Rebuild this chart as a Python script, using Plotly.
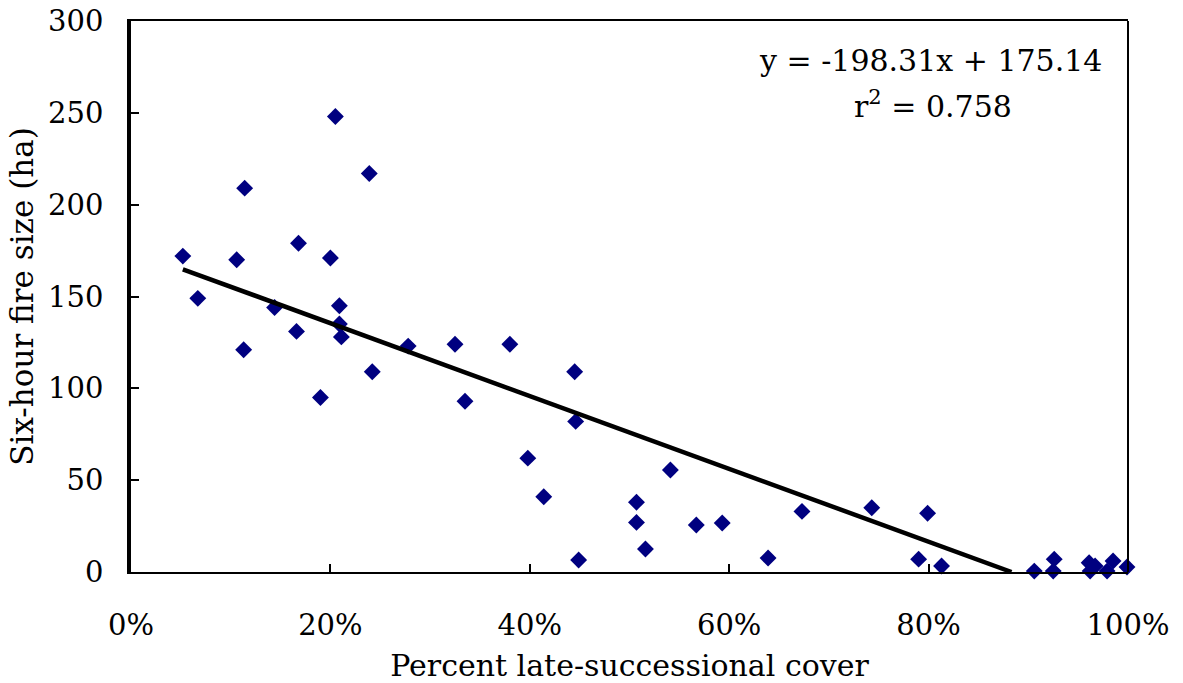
import numpy as np
import plotly.graph_objects as go

# Late-successional cover (fraction of area) and six-hour fire size (ha)
cover = [0.052, 0.067, 0.106, 0.114, 0.113, 0.144, 0.168, 0.166, 0.200, 0.205,
         0.209, 0.209, 0.211, 0.190, 0.239, 0.242, 0.278, 0.325, 0.335, 0.380,
         0.398, 0.414, 0.445, 0.446, 0.449, 0.507, 0.507, 0.516, 0.541, 0.567,
         0.593, 0.639, 0.673, 0.743, 0.790, 0.799, 0.813, 0.906, 0.926, 0.925,
         0.961, 0.962, 0.967, 0.979, 0.985, 0.999]
fire_size = [172, 149, 170, 209, 121, 144, 179, 131, 171, 248,
             145, 135, 128, 95, 217, 109, 123, 124, 93, 124,
             62, 41, 109, 82, 6.5, 38, 27, 12.5, 55.5, 25.6,
             26.7, 7.6, 33, 35, 7, 32, 3.3, 0.5, 7, 0.5,
             5, 0.5, 3.3, 0.5, 6, 2.7]

# Linear fit reported on the chart
slope = -198.31
intercept = 175.14
r_squared = 0.758

x_ticks = [0, 0.2, 0.4, 0.6, 0.8, 1.0]
y_ticks = [0, 50, 100, 150, 200, 250, 300]

SERIF = "DejaVu Serif"

fit_x = np.array([min(cover), -intercept / slope])
fit_y = slope * fit_x + intercept

fig = go.Figure()
fig.add_trace(go.Scatter(
    x=cover, y=fire_size, mode="markers",
    marker=dict(symbol="diamond", size=13, color="#000080", line=dict(width=0)),
    cliponaxis=False, showlegend=False,
))
fig.add_trace(go.Scatter(
    x=fit_x, y=fit_y, mode="lines",
    line=dict(color="black", width=4.5), showlegend=False,
))

# fit equation and coefficient of determination
fig.add_annotation(
    x=0.802, y=0.929, xref="paper", yref="paper", xanchor="center", yanchor="middle",
    text=f"y = {slope:.2f}x + {intercept:.2f}", showarrow=False,
    font=dict(family=SERIF, size=30, color="black"),
)
fig.add_annotation(
    x=0.804, y=0.849, xref="paper", yref="paper", xanchor="center", yanchor="middle",
    text=f"r<sup>2</sup> = {r_squared:.3f}", showarrow=False,
    font=dict(family=SERIF, size=30, color="black"),
)

# thin right border of the plot frame
fig.add_shape(type="line", xref="paper", yref="paper", x0=1, x1=1, y0=0, y1=1,
              line=dict(color="black", width=2))

fig.update_layout(
    template="none",
    width=1183, height=683,
    margin=dict(l=131, r=55, t=21, b=111),
    plot_bgcolor="white", paper_bgcolor="white",
    font=dict(family=SERIF, size=29, color="black"),
    xaxis=dict(
        range=[0, 1], tickvals=x_ticks, tickformat=".0%",
        ticks="inside", ticklen=8, tickwidth=2, tickcolor="black",
        showline=True, linewidth=2, linecolor="black", mirror=True,
        showgrid=False, zeroline=False, ticklabelstandoff=26, automargin=False,
        title=dict(text="Percent late-successional cover", standoff=16,
                   font=dict(family=SERIF, size=30)),
    ),
    yaxis=dict(
        range=[0, 300], tickvals=y_ticks,
        ticks="inside", ticklen=8, tickwidth=2, tickcolor="black",
        showline=True, linewidth=3.5, linecolor="black",
        showgrid=False, zeroline=False, ticklabelstandoff=18, automargin=False,
        title=dict(text="Six-hour fire size (ha)", standoff=6,
                   font=dict(family=SERIF, size=31)),
    ),
)

fig.write_html("out.html")
